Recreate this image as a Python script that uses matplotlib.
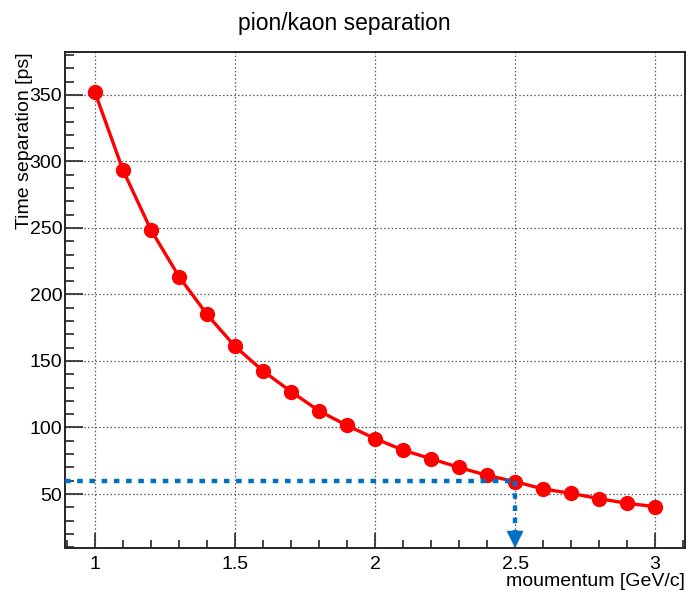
import numpy as np
import matplotlib
matplotlib.use('Agg')
import matplotlib.pyplot as plt
from matplotlib.ticker import MultipleLocator

# momentum [GeV/c] and pi/K time separation [ps]
momentum = [1.0, 1.1, 1.2, 1.3, 1.4, 1.5, 1.6, 1.7, 1.8, 1.9, 2.0,
            2.1, 2.2, 2.3, 2.4, 2.5, 2.6, 2.7, 2.8, 2.9, 3.0]
separation = [352, 293.5, 248.5, 213.5, 185, 161, 142.5, 127, 112.5, 101.5, 91.7,
              83, 76.5, 70, 64, 59.3, 53.8, 50.5, 46.5, 43, 40.5]

# working point marked with the blue arrow
p_mark = 2.5
t_mark = 60

x_range = (0.893, 3.107)
y_range = (9.4, 382.3)

plt.rcParams['font.family'] = ['Liberation Sans', 'DejaVu Sans']

fig = plt.figure(figsize=(6.89, 6.03), dpi=100)
ax = fig.add_axes([0.0943, 0.0912, 0.9, 0.8226])

ax.plot(momentum, separation, '-o', color='#ff0000', lw=2.4, ms=10, zorder=3)

blue = '#0070c0'
dot = (0, (1.25, 1.5))
ax.plot([x_range[0], p_mark], [t_mark, t_mark], color=blue, lw=3.2,
        linestyle=dot, dash_capstyle='butt', zorder=4)
ax.plot([p_mark, p_mark], [t_mark, y_range[0] + 8], color=blue, lw=3.2,
        linestyle=dot, dash_capstyle='butt', zorder=4)
ax.annotate('', xy=(p_mark, y_range[0]), xytext=(0, 11), textcoords='offset points',
            arrowprops=dict(arrowstyle='-|>,head_length=0.9,head_width=0.45',
                            color=blue, lw=1, shrinkA=0, shrinkB=0,
                            mutation_scale=12), zorder=5)

ax.set_xlim(*x_range)
ax.set_ylim(*y_range)

ax.xaxis.set_major_locator(MultipleLocator(0.5))
ax.xaxis.set_minor_locator(MultipleLocator(0.1))
ax.yaxis.set_major_locator(MultipleLocator(50))
ax.yaxis.set_minor_locator(MultipleLocator(10))
ax.set_xticks([1, 1.5, 2, 2.5, 3])
ax.set_xticklabels(['1', '1.5', '2', '2.5', '3'])

ax.tick_params(which='both', direction='in', top=False, right=False,
               labelsize=14, color='0.15')
ax.tick_params(axis='y', which='major', length=13, width=1.2, pad=2)
ax.tick_params(axis='y', which='minor', length=6.5, width=1.2)
ax.tick_params(axis='x', which='major', length=11, width=1.2, pad=6)
ax.tick_params(axis='x', which='minor', length=6, width=1.2)

for s in ax.spines.values():
    s.set_linewidth(1.4)
    s.set_color('0.15')

ax.grid(which='major', color='0.35', lw=0.9, linestyle=(0, (1.2, 1.8)))
ax.set_axisbelow(True)

# title is centred on the canvas, not on the frame
ax.set_title('pion/kaon separation', fontsize=16.5, pad=16, x=0.45)
ax.set_ylabel('Time separation [ps]', fontsize=14, loc='top')
ax.yaxis.set_label_coords(-0.052, 1.0)
ax.set_xlabel('moumentum [GeV/c]', fontsize=14, loc='right')
ax.xaxis.set_label_coords(1.0, -0.05)

fig.savefig('out.png', dpi=100)
